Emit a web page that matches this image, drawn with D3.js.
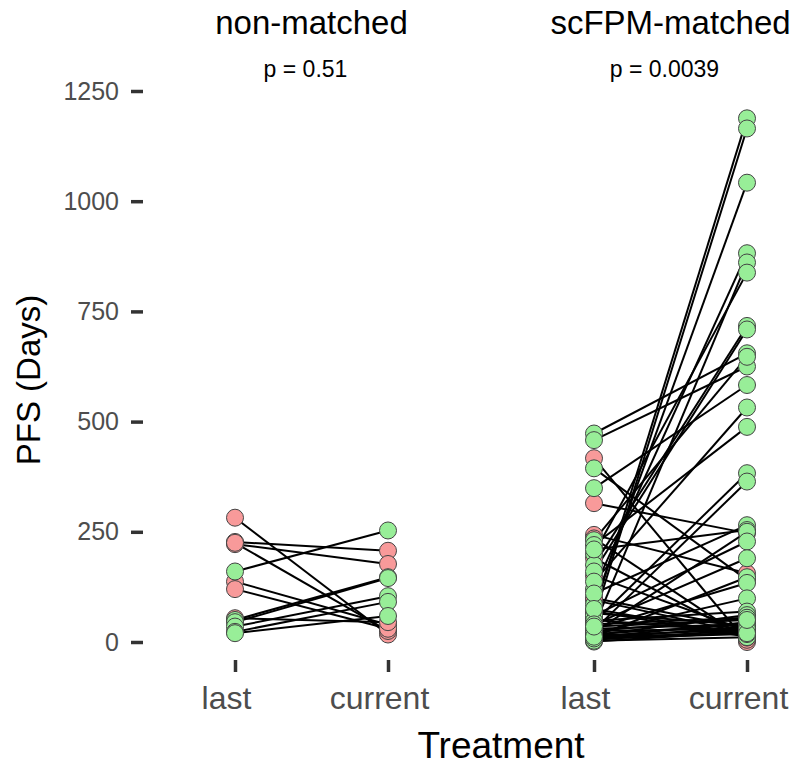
<!DOCTYPE html>
<html>
<head>
<meta charset="utf-8">
<script src="https://cdn.jsdelivr.net/npm/d3@7"></script>
<style>
  body { margin: 0; background: #fff; }
  svg { display: block; font-family: "Liberation Sans", Arial, Helvetica, sans-serif; }
</style>
</head>
<body>
<svg width="800" height="767"></svg>
<script>
// facets, labels, ticks
const facets = ["non-matched", "scFPM-matched"];
const pLabels = ["p = 0.51", "p = 0.0039"];
const treatments = ["last", "current"];
const yTicks = [0, 250, 500, 750, 1000, 1250];

// non-matched pairs (PFS days)
const nmLast    = [282, 227, 222, 225, 137, 120, 54, 160, 50, 45, 35, 23, 20];
const nmCurrent = [17, 207, 177, 25, 39, 30, 45, 253, 147, 145, 104, 91, 59];
const nmGroup   = ["R", "R", "R", "R", "R", "R", "R", "G", "G", "G", "G", "G", "G"];

// scFPM-matched pairs (PFS days)
const smLast    = [417, 315, 243, 235, 150, 65, 95, 50, 70, 100, 190,
  473, 458, 394, 349, 69, 54, 85, 120, 35, 200, 175, 160, 231, 137, 220, 45, 27,
  110, 210, 22, 60, 40, 12, 30, 20, 48, 15, 25, 10, 18, 8, 5, 1, 75, 3,
  30, 15, 8, 40, 25, 12, 35];
const smCurrent = [0, 247, 156, 5, 25, 38, 20, 22, 12, 30, 10,
  655, 625, 141, 583, 1188, 1165, 1042, 882, 861, 838, 717, 709, 647, 532, 488, 383, 364,
  265, 254, 250, 228, 190, 147, 134, 99, 69, 61, 54, 45, 39, 35, 27, 23, 15, 11,
  40, 28, 18, 55, 30, 20, 50];
const smGroup   = ["R", "R", "R", "R", "R", "R", "R", "R", "R", "R", "R",
  "G", "G", "G", "G", "G", "G", "G", "G", "G", "G", "G", "G", "G", "G", "G", "G", "G",
  "G", "G", "G", "G", "G", "G", "G", "G", "G", "G", "G", "G", "G", "G", "G", "G", "G", "G",
  "G", "G", "G", "G", "G", "G", "G"];

const colors = { R: "#f89a9a", G: "#98ee98" };

const svg = d3.select("svg");

const y = d3.scaleLinear().domain([0, 1250]).range([642, 91]);
const x = d3.scalePoint().domain(treatments).range([0, 153]);
const facetX = d3.scaleOrdinal().domain(facets).range([235, 594]);

const panels = [
  { name: facets[0], p: pLabels[0], last: nmLast, cur: nmCurrent, grp: nmGroup },
  { name: facets[1], p: pLabels[1], last: smLast, cur: smCurrent, grp: smGroup }
];

// y axis
const yAxis = svg.append("g")
  .attr("transform", "translate(143,0)")
  .call(d3.axisLeft(y).tickValues(yTicks).tickSize(12).tickPadding(12).tickFormat(d3.format("d")));
yAxis.select(".domain").remove();
yAxis.selectAll(".tick line").attr("stroke", "#333").attr("stroke-width", 3.5);
yAxis.selectAll(".tick text")
  .attr("fill", "#4d4d4d")
  .style("font-size", "25px")
  .style("font-family", "'Liberation Sans', Arial, sans-serif");

svg.append("text")
  .attr("transform", "translate(40,380) rotate(-90)")
  .attr("text-anchor", "middle")
  .style("font-size", "33px")
  .text("PFS (Days)");

panels.forEach(p => {
  const g = svg.append("g").attr("transform", `translate(${facetX(p.name)},0)`);
  const cx = x("last") + (x("current") - x("last")) / 2;

  g.append("text")
    .attr("x", cx).attr("y", 34)
    .attr("text-anchor", "middle")
    .style("font-size", "33px")
    .text(p.name);

  g.append("text")
    .attr("x", cx - 6).attr("y", 77)
    .attr("text-anchor", "middle")
    .style("font-size", "23px")
    .text(p.p);

  // x axis
  const xAxis = g.append("g")
    .attr("transform", "translate(0,660)")
    .call(d3.axisBottom(x).tickSize(12).tickPadding(14));
  xAxis.select(".domain").remove();
  xAxis.selectAll(".tick line").attr("stroke", "#333").attr("stroke-width", 3.5);
  xAxis.selectAll(".tick text")
    .attr("dx", -9)
    .attr("fill", "#4d4d4d")
    .style("font-size", "32px")
    .style("font-family", "'Liberation Sans', Arial, sans-serif");

  const pairs = p.last.map((v, i) => ({ last: v, cur: p.cur[i], grp: p.grp[i] }));

  g.selectAll(".pair")
    .data(pairs)
    .enter().append("line")
    .attr("class", "pair")
    .attr("x1", x("last")).attr("y1", d => y(d.last))
    .attr("x2", x("current")).attr("y2", d => y(d.cur))
    .attr("stroke", "#000")
    .attr("stroke-width", 2);

  const pts = [];
  pairs.forEach(d => {
    pts.push({ t: "last", v: d.last, grp: d.grp });
    pts.push({ t: "current", v: d.cur, grp: d.grp });
  });
  pts.sort((a, b) => (a.grp === b.grp ? 0 : a.grp === "R" ? -1 : 1));

  g.selectAll(".pt")
    .data(pts)
    .enter().append("circle")
    .attr("class", "pt")
    .attr("cx", d => x(d.t))
    .attr("cy", d => y(d.v))
    .attr("r", 8.5)
    .attr("fill", d => colors[d.grp])
    .attr("stroke", "#444")
    .attr("stroke-width", 1);
});

svg.append("text")
  .attr("x", 501).attr("y", 758)
  .attr("text-anchor", "middle")
  .style("font-size", "37px")
  .text("Treatment");
</script>
</body>
</html>
